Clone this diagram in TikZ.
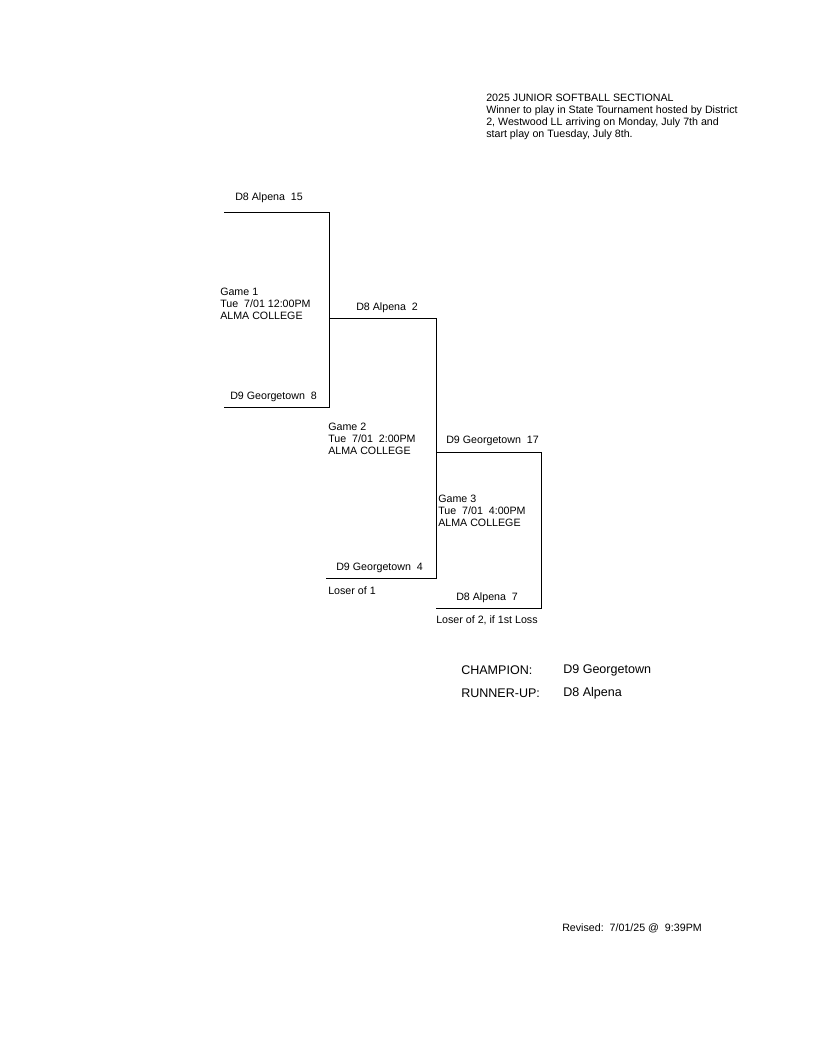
\documentclass[tikz,border=0pt]{standalone}
\usepackage{fontspec}
\setmainfont{Liberation Sans}
\begin{document}
\begin{tikzpicture}[x=0.75pt,y=-0.75pt,
  lbl/.style={anchor=base west,inner sep=0pt,font=\fontsize{8}{9}\selectfont},
  big/.style={anchor=base west,inner sep=0pt,font=\fontsize{9.4}{11}\selectfont},
  bline/.style={line width=0.75pt,black,line cap=rect}]
\useasboundingbox (0,0) rectangle (816,1056);
% bracket corners
\coordinate (g1t) at (224,212);
\coordinate (g1tr) at (329,212);
\coordinate (g1br) at (329,407);
\coordinate (g1b) at (224,407);
\coordinate (g1m) at (329,318);
\coordinate (g2tr) at (436,318);
\coordinate (g2br) at (436,578);
\coordinate (g2b) at (326,578);
\coordinate (g3t) at (436,452);
\coordinate (g3tr) at (541,452);
\coordinate (g3br) at (541,608);
\coordinate (g3b) at (436,608);
\draw[bline] (g1t) -- (g1tr) -- (g1br) -- (g1b);
\draw[bline] (g1m) -- (g2tr) -- (g2br) -- (g2b);
\draw[bline] (g3t) -- (g3tr) -- (g3br) -- (g3b);
% title
\node[lbl] (t1) at (486,102) {2025 JUNIOR SOFTBALL SECTIONAL};
\node[lbl] (t2) at (486,113.5) {Winner to play in State Tournament hosted by District};
\node[lbl] (t3) at (486,125.5) {2, Westwood LL arriving on Monday, July 7th and};
\node[lbl] (t4) at (486,137.5) {start play on Tuesday, July 8th.};
% teams
\node[lbl] (a15) at (235,200) {D8 Alpena\ \ 15};
\node[lbl] (g8) at (230,399) {D9 Georgetown\ \ 8};
\node[lbl] (a2) at (356,310) {D8 Alpena\ \ 2};
\node[lbl] (g4) at (336,570.7) {D9 Georgetown\ \ 4};
\node[lbl] (g17) at (446,443.7) {D9 Georgetown\ \ 17};
\node[lbl] (a7) at (456,600.7) {D8 Alpena\ \ 7};
% game info
\node[lbl] (g1a) at (220,295) {Game 1};
\node[lbl] (g1b2) at (220,307) {Tue\ \ 7/01 12:00PM};
\node[lbl] (g1c) at (220,319) {ALMA COLLEGE};
\node[lbl] (g2a) at (328,430.7) {Game 2};
\node[lbl] (g2b2) at (328,442.7) {Tue\ \ 7/01\ \ 2:00PM};
\node[lbl] (g2c) at (328,454.7) {ALMA COLLEGE};
\node[lbl] (g3a) at (438,502.3) {Game 3};
\node[lbl] (g3b2) at (438,514.3) {Tue\ \ 7/01\ \ 4:00PM};
\node[lbl] (g3c) at (438,526.3) {ALMA COLLEGE};
\node[lbl] (l1) at (328,594) {Loser of 1};
\node[lbl] (l2) at (436,623.3) {Loser of 2, if 1st Loss};
% results
\node[big] (ch) at (461,674.3) {CHAMPION:};
\node[big] (chn) at (563,673.7) {D9 Georgetown};
\node[big] (ru) at (461,697.7) {RUNNER-UP:};
\node[big] (run) at (563,696.3) {D8 Alpena};
\node[lbl] (rev) at (562,931.7) {Revised:\ \ 7/01/25 @\ \ 9:39PM};
\end{tikzpicture}
\end{document}
